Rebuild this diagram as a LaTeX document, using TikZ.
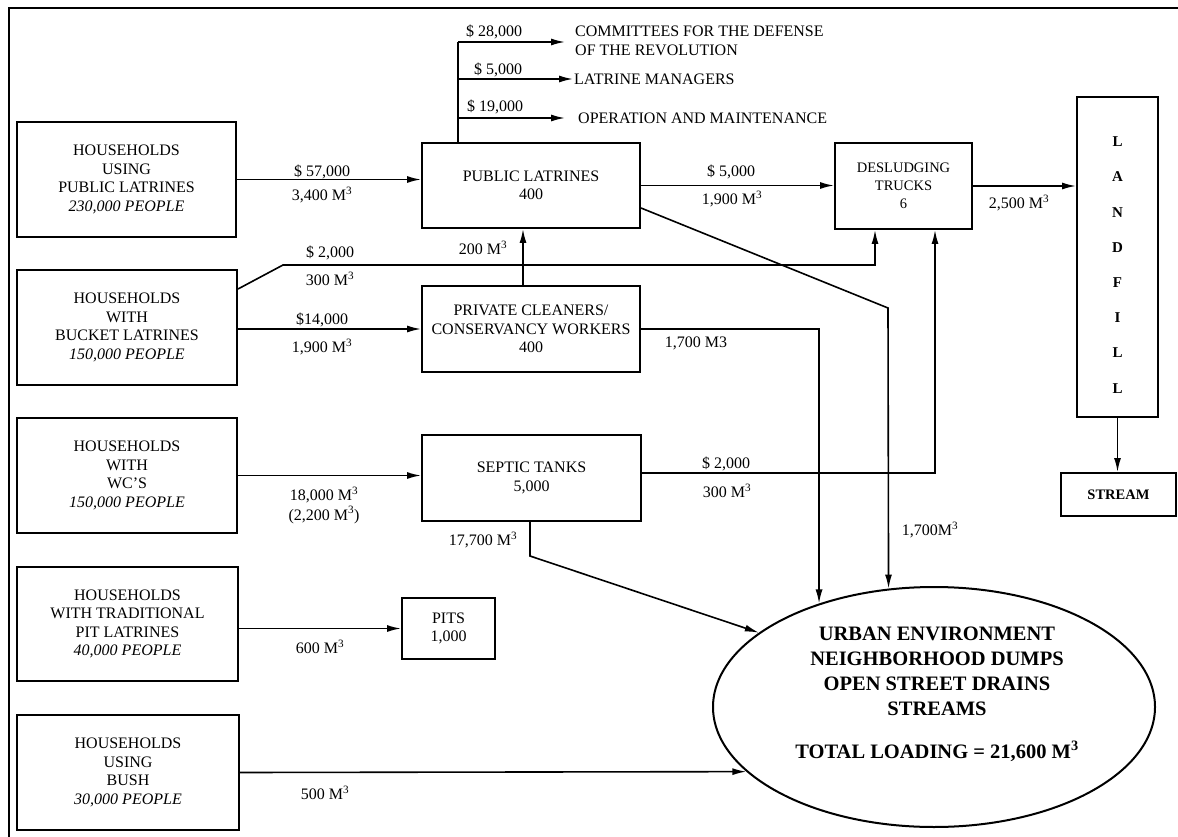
\documentclass[tikz,border=0pt]{standalone}
\usepackage{fontspec}
\setmainfont{Liberation Serif}
\usetikzlibrary{arrows.meta,shapes.geometric}
\begin{document}
\begin{tikzpicture}[x=1pt,y=-1pt,
  every node/.style={font=\fontsize{16}{18.5}\selectfont, inner sep=0pt},
  box/.style={draw, line width=2pt, align=center},
  line/.style={line width=1.6pt},
  arr/.style={line width=1.6pt, -{Latex[length=14pt,width=7pt]}},
  bigtext/.style={font=\bfseries\fontsize{20.5}{25}\selectfont, align=center},
]
\useasboundingbox (0,0) rectangle (1178,837);
% frame
\draw[line width=2.2pt] (9,837) -- (9,8) -- (1178,8);

% households
\node[box, minimum width=219pt, minimum height=115pt] (h1) at (126.5,179.5)
  {HOUSEHOLDS\\USING\\PUBLIC LATRINES\\\textit{230,000 PEOPLE}};
\node[box, minimum width=220pt, minimum height=115pt] (h2) at (127,327.5)
  {HOUSEHOLDS\\WITH\\BUCKET LATRINES\\\textit{150,000 PEOPLE}};
\node[box, minimum width=220pt, minimum height=115pt] (h3) at (127,475.5)
  {HOUSEHOLDS\\WITH\\WC'S\\\textit{150,000 PEOPLE}};
\node[box, minimum width=221pt, minimum height=114pt] (h4) at (127.5,624)
  {HOUSEHOLDS\\WITH TRADITIONAL\\PIT LATRINES\\\textit{40,000 PEOPLE}};
\node[box, minimum width=222pt, minimum height=115pt] (h5) at (128,772.5)
  {HOUSEHOLDS\\USING\\BUSH\\\textit{30,000 PEOPLE}};

% middle boxes
\node[box, minimum width=218pt, minimum height=85pt] (pl) at (531,185.5)
  {PUBLIC LATRINES\\400};
\node[box, minimum width=218pt, minimum height=86pt] (pc) at (531,329)
  {PRIVATE CLEANERS/\\CONSERVANCY WORKERS\\400};
\node[box, minimum width=219pt, minimum height=86pt] (st) at (531.5,478)
  {SEPTIC TANKS\\5,000};
\node[box, minimum width=93pt, minimum height=61pt] (pits) at (448.5,628.5)
  {PITS\\1,000};
\node[box, minimum width=137pt, minimum height=86pt, font=\fontsize{14.5}{18}\selectfont] (dt) at (903.5,186)
  {DESLUDGING\\TRUCKS\\6};

% landfill and stream
\node[box, minimum width=81pt, minimum height=320pt] (lf) at (1117.5,257) {};
\node[font=\bfseries\fontsize{15}{35.2}\selectfont, align=center] (lftext) at (1117.5,265)
  {L\\A\\N\\D\\F\\I\\L\\L};
\node[box, minimum width=115pt, minimum height=43pt, font=\bfseries\fontsize{14.5}{17}\selectfont] (stream) at (1118.5,494.5) {STREAM};

% urban environment
\node[draw, ellipse, line width=2pt, minimum width=442pt, minimum height=240pt] (env) at (934,707) {};
\node[bigtext] (envtext) at (937,694)
  {URBAN ENVIRONMENT\\NEIGHBORHOOD DUMPS\\OPEN STREET DRAINS\\STREAMS\\[18pt]TOTAL LOADING = 21,600 M\textsuperscript{3}};

% recipients of public latrine revenue
\node[anchor=west, align=left] (cdr) at (575,41) {COMMITTEES FOR THE DEFENSE\\OF THE REVOLUTION};
\node[anchor=west] (lm) at (574,79) {LATRINE MANAGERS};
\node[anchor=west] (om) at (578,118) {OPERATION AND MAINTENANCE};
\coordinate (br) at (458,42);
\draw[line] (pl.north -| br) -- (br);
\draw[arr, shorten >=10pt] (br) -- (br -| cdr.west);
\draw[arr, shorten >=1pt] (br |- lm.west) -- (lm.west);
\draw[arr, shorten >=13pt] (br |- om.west) -- (om.west);
\node (l28) at (494,32) {\$ 28,000};
\node (l5a) at (498,70) {\$ 5,000};
\node (l19) at (495,107) {\$ 19,000};

% households -> public latrines
\draw[arr] (h1.east) -- (h1.east -| pl.west);
\node (l57) at (322,172) {\$ 57,000};
\node (l34) at (322,195) {3,400 M\textsuperscript{3}};

% public latrines -> desludging
\draw[arr] (pl.east) -- (pl.east -| dt.west);
\node (l5b) at (731,172) {\$ 5,000};
\node (l19b) at (732,199) {1,900 M\textsuperscript{3}};

% desludging -> landfill
\draw[arr] (dt.east) -- (dt.east -| lf.west);
\node (l25) at (1019,203) {2,500 M\textsuperscript{3}};

% landfill -> stream
\draw[arr] (lf.south) -- (lf.south |- stream.north);

% bucket -> desludging
\coordinate (c1) at (283,265);
\draw[arr] ([yshift=38.5pt]h2.east) -- (c1) -| ([xshift=-28.5pt]dt.south);
\node (l2a) at (330,253) {\$ 2,000};
\node (l3a) at (330,279) {300 M\textsuperscript{3}};

% bucket -> private cleaners
\draw[arr] (h2.east |- pc.west) -- (pc.west);
\node (l14) at (322,320) {\$14,000};
\node (l19c) at (322,347) {1,900 M\textsuperscript{3}};

% private cleaners -> public latrines
\draw[arr] ([xshift=-8pt]pc.north) -- ([xshift=-8pt]pl.south);
\node (l200) at (483,248) {200 M\textsuperscript{3}};

% private cleaners -> environment
\draw[arr] (pc.east) -| (env.138.9);
\node (l17a) at (696,343) {1,700 M3};

% public latrines -> environment
\coordinate (c2) at (888,308);
\draw[arr] ([yshift=-22.5pt]pl.east) -- (c2) -- (env.111.4);
\node (l17b) at (930,530) {1,700M\textsuperscript{3}};

% WC -> septic
\draw[arr] (h3.east) -- (h3.east -| st.west);
\node (l18) at (324,495) {18,000 M\textsuperscript{3}};
\node (l22) at (324,515) {(2,200 M\textsuperscript{3})};

% septic -> desludging
\draw[arr] ([yshift=5pt]st.east) -| ([xshift=31.5pt]dt.south);
\node (l2b) at (726,464) {\$ 2,000};
\node (l3b) at (727,491) {300 M\textsuperscript{3}};

% septic -> environment
\draw[arr] ([xshift=-1.5pt]st.south) -- ([xshift=-1.5pt,yshift=-34pt]st.south) -- (env.157.8);
\node (l177) at (483,540) {17,700 M\textsuperscript{3}};

% pit latrines -> pits
\draw[arr] (h4.east |- pits.west) -- (pits.west);
\node (l600) at (320,647) {600 M\textsuperscript{3}};

% bush -> environment
\draw[arr] (h5.east) -- (env.199.3);
\node (l500) at (325,793) {500 M\textsuperscript{3}};
\end{tikzpicture}
\end{document}
